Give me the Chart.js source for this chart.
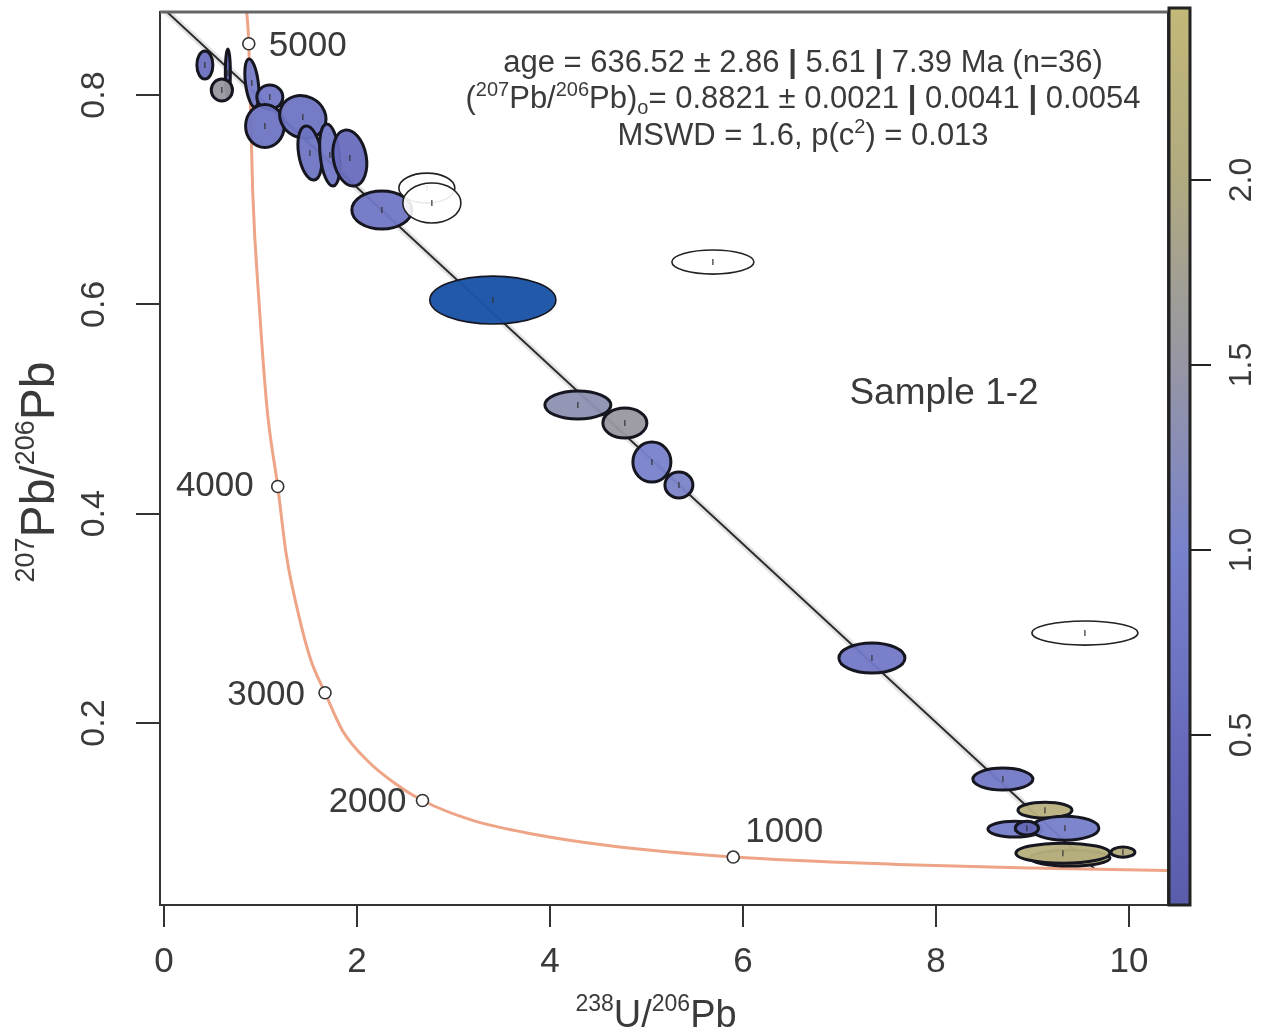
<!DOCTYPE html>
<html>
<head>
<meta charset="utf-8">
<script src="https://cdn.jsdelivr.net/npm/chart.js@4.4.0/dist/chart.umd.min.js"></script>
<style>
    html, body { margin: 0; padding: 0; background: #fff; }
</style>
</head>
<body>
<canvas id="myChart" width="1279" height="1034"></canvas>
<script>
// Tera-Wasserburg concordia, sample 1-2

// analyses: centre, half width / half height of the error ellipse, correlation
const ellX   = [0.425, 0.663, 0.601, 0.912, 1.098, 1.047, 1.440, 1.513, 1.720, 1.927, 2.259, 2.725, 2.777, 3.409, 5.689, 4.290, 4.777, 5.057, 5.337, 7.337, 9.544, 8.694, 9.130, 8.819, 9.337, 8.943, 9.389, 9.316, 9.938];
const ellY   = [0.8287, 0.8210, 0.8048, 0.8115, 0.7980, 0.7704, 0.7790, 0.7446, 0.7427, 0.7398, 0.6901, 0.7111, 0.6968, 0.6041, 0.6404, 0.5038, 0.4866, 0.4493, 0.4274, 0.2621, 0.2860, 0.1465, 0.1168, 0.0987, 0.0996, 0.0996, 0.0710, 0.0757, 0.0767];
const ellSX  = [0.083, 0.026, 0.110, 0.073, 0.135, 0.200, 0.240, 0.124, 0.106, 0.176, 0.311, 0.290, 0.301, 0.653, 0.425, 0.342, 0.228, 0.197, 0.145, 0.342, 0.549, 0.311, 0.280, 0.280, 0.352, 0.120, 0.415, 0.487, 0.124];
const ellSY  = [0.0134, 0.0230, 0.0105, 0.0230, 0.0115, 0.0205, 0.0205, 0.0258, 0.0296, 0.0268, 0.0182, 0.0143, 0.0191, 0.0229, 0.0115, 0.0134, 0.0143, 0.0191, 0.0124, 0.0143, 0.0115, 0.0105, 0.0076, 0.0076, 0.0115, 0.0065, 0.0076, 0.0096, 0.0048];
const ellRho = [0, 0, 0, -0.4, 0, 0, -0.1, -0.3, -0.3, -0.2, 0, 0, 0, 0, 0, 0, 0, 0, 0, 0, 0, 0, 0, 0, 0, 0, 0, 0, 0];
// colour scale value, null = rejected analysis (open), -1 = highlighted
const ellVal = [0.6, 0.3, 1.55, 0.9, 0.8, 0.7, 0.7, 0.7, 0.8, 0.5, 0.75, null, null, -1, null, 1.35, 1.55, 1.0, 1.05, 0.8, null, 0.8, 2.2, 0.9, 0.95, 0.4, 2.25, 2.15, 2.1];

// concordia curve
const concX = [0.84, 0.88, 0.92, 0.99, 1.07, 1.18, 1.27, 1.39, 1.52, 1.67, 1.85, 2.11, 2.40, 2.68, 3.20, 3.82, 4.60, 5.90, 7.60, 9.00, 10.45];
const concY = [0.895, 0.849, 0.709, 0.597, 0.50, 0.426, 0.360, 0.306, 0.261, 0.229, 0.193, 0.164, 0.142, 0.126, 0.107, 0.094, 0.083, 0.072, 0.065, 0.0615, 0.059];

// age marks on the concordia (Ma)
const ageLabels = ["5000", "4000", "3000", "2000", "1000"];
const ageX = [0.88, 1.18, 1.67, 2.68, 5.90];
const ageY = [0.849, 0.426, 0.229, 0.126, 0.072];

// discordia (isochron) end points
const discX = [0, 9.64];
const discY = [0.8821, 0.061];

const xTicks = [0, 2, 4, 6, 8, 10];
const yTicks = [0.2, 0.4, 0.6, 0.8];
const cTicks = [0.5, 1.0, 1.5, 2.0];

// colour scale
const cbarVals = [0.04, 0.5, 1.0, 1.5, 2.0, 2.46];
const cbarCols = [[90, 92, 172], [104, 107, 188], [120, 130, 204], [150, 150, 164], [176, 170, 128], [194, 184, 120]];

const FONT = "'Liberation Sans', Arial, sans-serif";
const INK = "#3a3a3a";

function colourAt(v, alpha) {
    let i = 0;
    while (i < cbarVals.length - 2 && v > cbarVals[i + 1]) i++;
    let t = (v - cbarVals[i]) / (cbarVals[i + 1] - cbarVals[i]);
    t = Math.max(0, Math.min(1, t));
    const c = cbarCols[i].map((c0, k) => Math.round(c0 + t * (cbarCols[i + 1][k] - c0)));
    return "rgba(" + c[0] + "," + c[1] + "," + c[2] + "," + alpha + ")";
}

// text made of runs: {t, s (size), dy, b (bold)}
function drawRuns(ctx, runs, cx, base, align) {
    let total = 0;
    runs.forEach(r => {
        ctx.font = (r.b ? "bold " : "") + r.s + "px " + FONT;
        r.w = ctx.measureText(r.t).width;
        total += r.w;
    });
    let x = align === "left" ? cx : cx - total / 2;
    ctx.textAlign = "left";
    ctx.textBaseline = "alphabetic";
    runs.forEach(r => {
        ctx.font = (r.b ? "bold " : "") + r.s + "px " + FONT;
        ctx.fillText(r.t, x, base + (r.dy || 0));
        x += r.w;
    });
}

const ellipsePlugin = {
    id: "ellipses",
    afterDatasetsDraw(chart) {
        const ctx = chart.ctx;
        const a = chart.chartArea;
        const xs = chart.scales.x, ys = chart.scales.y;
        const kx = Math.abs(xs.getPixelForValue(1) - xs.getPixelForValue(0));
        const ky = Math.abs(ys.getPixelForValue(1) - ys.getPixelForValue(0));
        ctx.save();
        ctx.beginPath();
        ctx.rect(a.left, a.top, a.right - a.left, a.bottom - a.top);
        ctx.clip();
        for (let i = 0; i < ellX.length; i++) {
            const cx = xs.getPixelForValue(ellX[i]);
            const cy = ys.getPixelForValue(ellY[i]);
            const sx = ellSX[i] * kx, sy = ellSY[i] * ky;
            const c11 = sx * sx, c22 = sy * sy, c12 = -ellRho[i] * sx * sy;
            const m = (c11 + c22) / 2;
            const d = Math.sqrt(((c11 - c22) / 2) ** 2 + c12 * c12);
            const ang = 0.5 * Math.atan2(2 * c12, c11 - c22);
            ctx.beginPath();
            ctx.ellipse(cx, cy, Math.sqrt(m + d), Math.sqrt(Math.max(m - d, 0.5)), ang, 0, 2 * Math.PI);
            const v = ellVal[i];
            if (v === null) {
                ctx.fillStyle = "rgba(255,255,255,0.9)";
                ctx.fill();
                ctx.lineWidth = 1.6;
                ctx.strokeStyle = "#222";
                ctx.stroke();
            } else {
                ctx.fillStyle = v < 0 ? "rgba(28,84,166,0.97)" : colourAt(v, 0.95);
                ctx.fill();
                ctx.lineWidth = v < 0 ? 1.6 : 3;
                ctx.strokeStyle = "#161620";
                ctx.stroke();
            }
            // centre mark
            ctx.beginPath();
            ctx.moveTo(cx, cy - 3);
            ctx.lineTo(cx, cy + 3);
            ctx.lineWidth = 1.2;
            ctx.strokeStyle = "#333";
            ctx.stroke();
        }
        ctx.restore();

        // concordia age marks above the ellipses
        ctx.save();
        for (let i = 0; i < ageX.length; i++) {
            ctx.beginPath();
            ctx.arc(xs.getPixelForValue(ageX[i]), ys.getPixelForValue(ageY[i]), 6, 0, 2 * Math.PI);
            ctx.fillStyle = "#fff";
            ctx.fill();
            ctx.lineWidth = 1.6;
            ctx.strokeStyle = "#333";
            ctx.stroke();
        }
        ctx.restore();
    },
    afterDraw(chart) {
        const ctx = chart.ctx;
        const a = chart.chartArea;
        const xs = chart.scales.x, ys = chart.scales.y, cs = chart.scales.c;
        ctx.save();

        // box
        ctx.strokeStyle = "#333";
        ctx.lineWidth = 2;
        ctx.strokeRect(a.left, a.top, a.right - a.left, a.bottom - a.top);
        ctx.strokeStyle = "#666";
        ctx.lineWidth = 3;
        ctx.beginPath();
        ctx.moveTo(a.left, a.top);
        ctx.lineTo(a.right, a.top);
        ctx.stroke();

        // colour bar
        const cTop = cs.getPixelForValue(cs.max) - 4, cBot = cs.getPixelForValue(cs.min);
        const grad = ctx.createLinearGradient(0, cBot, 0, cTop);
        cbarVals.forEach(v => {
            const p = (cs.getPixelForValue(v) - cBot) / (cTop - cBot);
            grad.addColorStop(Math.max(0, Math.min(1, p)), colourAt(v, 1));
        });
        ctx.fillStyle = grad;
        ctx.fillRect(a.right, cTop, 22, cBot - cTop);
        ctx.strokeStyle = "#222";
        ctx.lineWidth = 3;
        ctx.strokeRect(a.right + 1, cTop, 21, cBot - cTop);

        // rotated tick labels
        ctx.fillStyle = INK;
        ctx.textAlign = "center";
        ctx.textBaseline = "middle";
        ctx.font = "34px " + FONT;
        yTicks.forEach(v => {
            ctx.save();
            ctx.translate(95, ys.getPixelForValue(v));
            ctx.rotate(-Math.PI / 2);
            ctx.fillText(v.toFixed(1), 0, 0);
            ctx.restore();
        });
        ctx.font = "32px " + FONT;
        cTicks.forEach(v => {
            ctx.save();
            ctx.translate(1242, cs.getPixelForValue(v));
            ctx.rotate(-Math.PI / 2);
            ctx.fillText(v.toFixed(1), 0, 0);
            ctx.restore();
        });

        // axis titles
        ctx.fillStyle = INK;
        drawRuns(ctx, [
            { t: "238", s: 23, dy: -16 }, { t: "U/", s: 38 },
            { t: "206", s: 23, dy: -16 }, { t: "Pb", s: 38 }
        ], (a.left + a.right) / 2 - 8, 1027);
        ctx.save();
        ctx.translate(54, 472);
        ctx.rotate(-Math.PI / 2);
        drawRuns(ctx, [
            { t: "207", s: 27, dy: -20 }, { t: "Pb/", s: 48 },
            { t: "206", s: 27, dy: -20 }, { t: "Pb", s: 48 }
        ], 0, 0);
        ctx.restore();

        // age labels
        ctx.font = "35px " + FONT;
        ctx.textBaseline = "middle";
        const ageDx = [20, -24, -20, -16, 12];
        const ageDy = [3, 0, 3, 2, -25];
        for (let i = 0; i < ageLabels.length; i++) {
            ctx.textAlign = ageDx[i] > 0 ? "left" : "right";
            ctx.fillText(ageLabels[i], xs.getPixelForValue(ageX[i]) + ageDx[i], ys.getPixelForValue(ageY[i]) + ageDy[i]);
        }

        // fit results
        const cx = 803;
        drawRuns(ctx, [
            { t: "age = 636.52 ± 2.86 ", s: 31 }, { t: "|", s: 31, b: true },
            { t: " 5.61 ", s: 31 }, { t: "|", s: 31, b: true },
            { t: " 7.39 Ma (n=36)", s: 31 }
        ], cx, 72);
        drawRuns(ctx, [
            { t: "(", s: 31 }, { t: "207", s: 20, dy: -12 }, { t: "Pb/", s: 31 },
            { t: "206", s: 20, dy: -12 }, { t: "Pb)", s: 31 }, { t: "o", s: 20, dy: 6 },
            { t: "= 0.8821 ± 0.0021 ", s: 31 }, { t: "|", s: 31, b: true },
            { t: " 0.0041 ", s: 31 }, { t: "|", s: 31, b: true }, { t: " 0.0054", s: 31 }
        ], cx, 108);
        drawRuns(ctx, [
            { t: "MSWD = 1.6, p(c", s: 31 }, { t: "2", s: 20, dy: -12 }, { t: ") = 0.013", s: 31 }
        ], cx, 145);

        ctx.font = "37px " + FONT;
        ctx.textAlign = "center";
        ctx.textBaseline = "middle";
        ctx.fillText("Sample 1-2", 944, 394);
        ctx.restore();
    }
};

function pts(xv, yv) {
    return xv.map((v, i) => ({ x: v, y: yv[i] }));
}

const config = {
    type: "scatter",
    data: {
        datasets: [{
            label: "concordia",
            data: pts(concX, concY),
            showLine: true,
            borderColor: "#eea486",
            borderWidth: 3,
            pointRadius: 0,
            cubicInterpolationMode: "monotone",
            clip: 0
        }, {
            label: "envelope",
            data: pts(discX, discY),
            showLine: true,
            borderColor: "rgba(0,0,0,0.10)",
            borderWidth: 7,
            pointRadius: 0,
            clip: 0
        }, {
            label: "discordia",
            data: pts(discX, discY),
            showLine: true,
            borderColor: "#333",
            borderWidth: 2,
            pointRadius: 0,
            clip: 0
        }]
    },
    options: {
        responsive: false,
        animation: false,
        events: [],
        layout: { padding: { top: 12, left: 0, right: 0, bottom: 0 } },
        plugins: { legend: { display: false }, tooltip: { enabled: false } },
        scales: {
            x: {
                type: "linear",
                min: -0.04,
                max: 10.405,
                afterBuildTicks: s => { s.ticks = xTicks.map(v => ({ value: v })); },
                afterFit: s => { s.height = 129; },
                border: { display: false },
                grid: { drawOnChartArea: false, drawTicks: true, tickLength: 22, color: "#333", lineWidth: 2 },
                ticks: { font: { size: 35, family: FONT }, color: INK, padding: 14, maxRotation: 0 }
            },
            y: {
                type: "linear",
                min: 0.0262,
                max: 0.8793,
                afterBuildTicks: s => { s.ticks = yTicks.map(v => ({ value: v })); },
                afterFit: s => { s.width = 160; },
                border: { display: false },
                grid: { drawOnChartArea: false, drawTicks: true, tickLength: 24, color: "#333", lineWidth: 2 },
                ticks: { display: false }
            },
            c: {
                type: "linear",
                display: true,
                position: "right",
                min: 0.0405,
                max: 2.454,
                afterBuildTicks: s => { s.ticks = cTicks.map(v => ({ value: v })); },
                afterFit: s => { s.width = 111; },
                border: { display: false },
                grid: { drawOnChartArea: false, drawTicks: true, tickLength: 43, color: "#222", lineWidth: 2 },
                ticks: { display: false }
            }
        }
    },
    plugins: [ellipsePlugin]
};

const myChart = new Chart(document.getElementById("myChart"), config);
</script>
</body>
</html>
